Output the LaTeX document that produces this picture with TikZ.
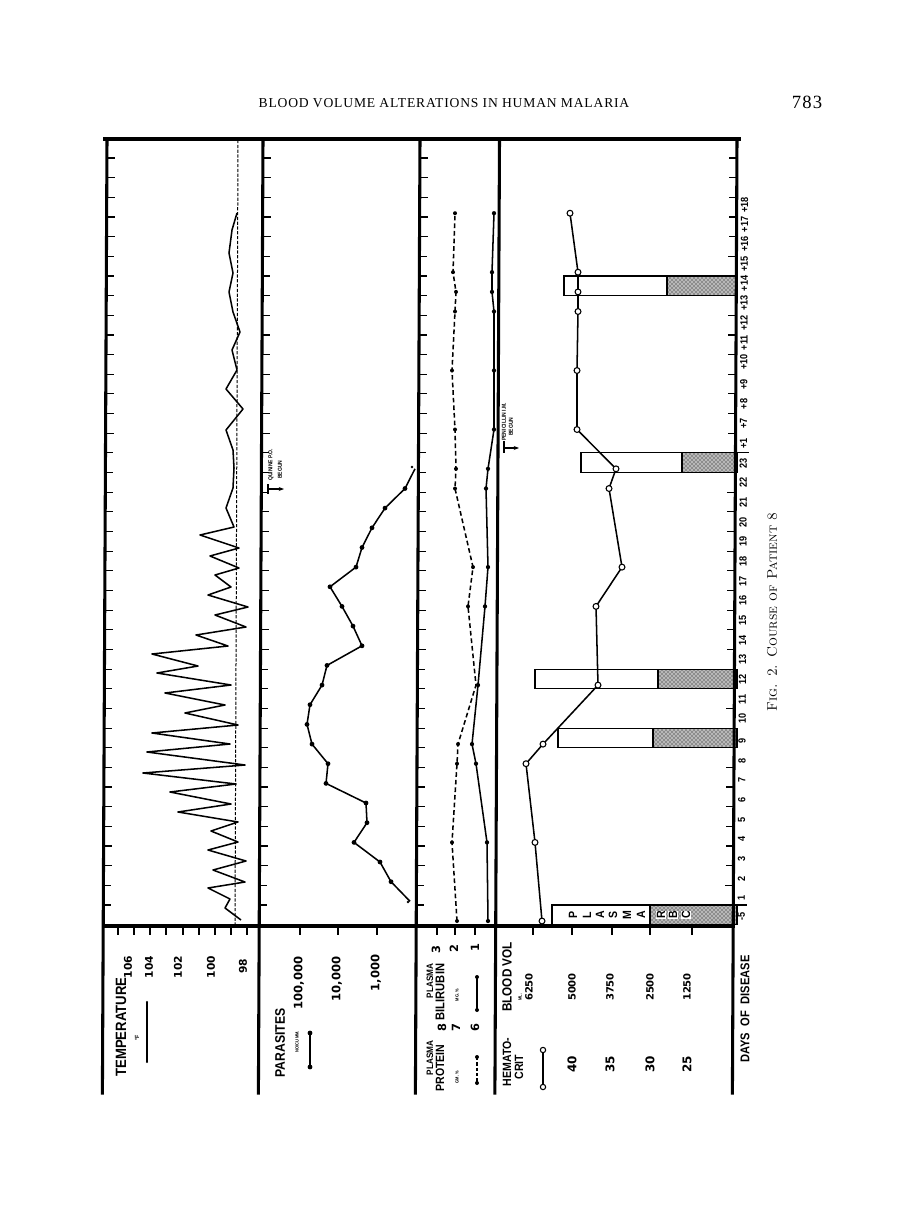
\documentclass[tikz,border=0pt]{standalone}
\usepackage{fontspec}
\newfontfamily\labf[FakeStretch=0.88]{Liberation Sans}
\newfontfamily\numf{DejaVu Sans}
\newfontfamily\hdrf[LetterSpace=6]{Liberation Serif}
\usetikzlibrary{patterns,arrows.meta}
\newcommand\fsz[1]{\fontsize{#1}{#1}\selectfont}
\begin{document}
\begin{tikzpicture}[x=0.75pt,y=-0.75pt,
  frm/.style={line width=2.3pt,line cap=rect},
  tk/.style={line width=0.9pt},
  dat/.style={line width=1.15pt,line join=round},
  barln/.style={line width=0.9pt},
  rbc/.style={fill=black!28,postaction={pattern=crosshatch dots}},
  lbl/.style={rotate=90,inner sep=0pt},
  wd/.style={lbl,font=\labf\bfseries\fsz{#1}},
  nm/.style={lbl,font=\numf\bfseries\fsz{#1}},
  odot/.style={fill=white,line width=0.8pt}]
\useasboundingbox (0,0) rectangle (907,1228);
\fill[white] (0,0) rectangle (907,1228);

% ---------- page header ----------
\node[font=\hdrf\fsz{10.2}] (title) at (444,103) {BLOOD VOLUME ALTERATIONS IN HUMAN MALARIA};
\node[font=\hdrf\fsz{14}] (page) at (807,102) {783};

% ---------- plasma / RBC bars ----------
\foreach \lft/\mid/\p in {552/650/0,558/653/9,535/658/12,581/682/23,564/667/32}{
  \pgfmathsetmacro\ya{924.7-19.66*\p}
  \pgfmathsetmacro\yb{\ya-19.66}
  \draw[barln,fill=white] (\lft,\yb) rectangle (\mid,\ya);
  \draw[barln,rbc] (\mid,\yb) rectangle (737,\ya);
}
\foreach \x/\c [count=\i] in {573/P,587/L,600/A,613/S,627/M,641/A}{
  \node[wd=9] (bp\i) at (\x,915) {\c};
}
\foreach \x/\c [count=\i] in {661/R,673/B,686/C}{
  \node[wd=9,fill=white,inner sep=0.4pt] (br\i) at (\x,915) {\c};
}

% ---------- temperature ----------
\draw[line width=0.75pt,dash pattern=on 2.4pt off 1.2pt] (238,140) -- (235,925);
\draw[dat] plot coordinates {(241,920) (225,908) (230,899) (208,888) (245,882) (213,870) (246,861) (208,850) (238,842) (211,831) (238,822) (178,812) (231,804) (170,792) (236,784) (143,773) (245,765) (147,752) (230,744) (152,733) (238,725) (185,713) (225,705) (165,693) (231,685) (157,673) (198,666) (152,654) (228,646) (196,635) (246,627) (215,615) (248,607) (208,595) (231,587) (215,575) (239,568) (210,556) (239,548) (200,535) (234,527) (226,508) (233,488) (234,468) (233,450) (226,430) (243,409) (226,389) (237,370) (232,350) (240,332) (233,312) (229,292) (233,273) (229,253) (232,230) (237,213)};

% ---------- parasites ----------
\draw[dat] plot coordinates {(410,901.3) (391,881.7) (380,862.0) (354,842.4) (367,822.7) (366,803.0) (326,783.4) (328,763.7) (312,744.1) (307,724.4) (310,704.7) (322,685.1) (327,665.4) (362,645.8) (353,626.1) (342,606.4) (330,586.8) (356,567.1) (362,547.5) (372,527.8) (385,508.1) (405,488.5) (415,468.8)};
\foreach \x/\y in {391/881.7,380/862.0,354/842.4,367/822.7,366/803.0,326/783.4,328/763.7,312/744.1,307/724.4,310/704.7,322/685.1,327/665.4,362/645.8,353/626.1,342/606.4,330/586.8,356/567.1,362/547.5,372/527.8,385/508.1,405/488.5}
  \fill (\x,\y) circle (1.8pt);
\fill (408,902) circle (1pt);
\fill (412,467) circle (1pt);

% quinine annotation
\node[wd=4.3,anchor=west] (qa) at (271,481) {QUININE P.O.};
\node[wd=4.3,anchor=west] (qb) at (280,479) {BEGUN};
\coordinate (qs) at (268,489);
\coordinate (qe) at (284,489);
\draw[line width=0.8pt] (268,484) -- (268,494);
\draw[line width=0.8pt,-{Stealth[length=4pt,width=3pt]}] (qs) -- (qe);

% ---------- plasma protein (dashed) ----------
\draw[dat,dash pattern=on 3.5pt off 2.2pt] plot coordinates {(457,921) (452,842.4) (457,763.7) (458,744.1) (476,685.1) (468,606.4) (473,567.1) (455,488.5) (456,468.8) (455,429.5) (452,370.5) (455,311.5) (456,291.9) (453,272.2) (455,213.2)};
\foreach \x/\y in {457/921,452/842.4,457/763.7,458/744.1,468/606.4,473/567.1,455/488.5,456/468.8,455/429.5,452/370.5,455/311.5,456/291.9,453/272.2,455/213.2}
  \fill (\x,\y) circle (1.5pt);

% ---------- bilirubin (solid) ----------
\draw[dat] plot coordinates {(488,921) (487,842.4) (476,763.7) (472,744.1) (478,685.1) (485,606.4) (488,567.1) (486,488.5) (488,468.8) (494,429.5) (494,370.5) (494,311.5) (492,291.9) (492,272.2) (494,213.2)};
\foreach \x/\y in {488/921,487/842.4,476/763.7,472/744.1,478/685.1,485/606.4,488/567.1,486/488.5,488/468.8,494/429.5,494/370.5,494/311.5,492/291.9,492/272.2,494/213.2}
  \fill (\x,\y) circle (1.6pt);

% penicillin annotation
\node[wd=4.3,anchor=west] (pa) at (504,441) {PENICILLIN I.M.};
\node[wd=4.3,anchor=west] (pb) at (511,436) {BEGUN};
\coordinate (ps) at (504,448);
\coordinate (pe) at (519,448);
\draw[line width=0.8pt] (504,441) -- (504,453);
\draw[line width=0.8pt,-{Stealth[length=4pt,width=3pt]}] (ps) -- (pe);

% ---------- hematocrit ----------
\draw[dat] plot coordinates {(542,921) (535,842.4) (526,763.7) (543,744.1) (598,685.1) (596,606.4) (622,567.1) (609,488.5) (616,468.8) (577,429.5) (577,370.5) (578,311.5) (578,291.9) (578,272.2) (570,213.2)};
\foreach \x/\y in {542/921,535/842.4,526/763.7,543/744.1,598/685.1,596/606.4,622/567.1,609/488.5,616/468.8,577/429.5,577/370.5,578/311.5,578/291.9,578/272.2,570/213.2}
  \draw[odot] (\x,\y) circle (2.2pt);

% ---------- frame ----------
\draw[frm] (105,139) -- (739,139);
\draw[frm] (107,139) -- (102.4,1093);
\draw[frm] (263,139) -- (258.4,1093);
\draw[frm] (420,139) -- (415.4,1093);
\draw[frm] (499.5,139) -- (494.9,1093);
\draw[frm] (737,139) -- (732.4,1093);
\draw[frm] (103.2,926) -- (733.2,926);

% day ticks
\foreach \p in {1,...,39}{
  \pgfmathsetmacro\ty{924.7-19.66*\p}
  \pgfmathsetmacro\dx{0.0048*(\ty-138)}
  \draw[tk] ({107-\dx},\ty) -- ++(8,0);
  \draw[tk] ({263-\dx},\ty) -- ++(8,0);
  \draw[tk] ({420-\dx},\ty) -- ++(8,0);
  \draw[tk] ({737-\dx},\ty) -- ++(-8,0);
}
\foreach \p in {1,24}{
  \pgfmathsetmacro\ty{924.7-19.66*\p}
  \pgfmathsetmacro\dx{0.0048*(\ty-138)}
  \draw[tk] ({737-\dx},\ty) -- ++(14,0);
}
% value ticks below the chart
\foreach \x in {118,134,150,166,183,199,215,231,247,300,338,377,437,455,475,533,572,612,650,692}
  \draw[tk] (\x,926) -- ++(0,9);

% day labels
\foreach \p/\t in {0/-5,1/1,2/2,3/3,4/4,5/5,6/6,7/7,8/8,9/9,10/10,11/11,12/12,13/13,14/14,15/15,16/16,17/17,18/18,19/19,20/20,21/21,22/22,23/23,24/+1,25/+7,26/+8,27/+9,28/+10,29/+11,30/+12,31/+13,32/+14,33/+15,34/+16,35/+17,36/+18}{
  \pgfmathsetmacro\ty{924.7-19.66*\p-4}
  \pgfmathsetmacro\dx{0.0048*(\ty-138)}
  \node[wd=7.8,anchor=west] (d\p) at ({745-\dx},\ty) {\t};
}

% ---------- scale labels ----------
\node[wd=11.2] (ltemp) at (121,1027) {TEMPERATURE};
\node[nm=8] (l106) at (128,967) {106};
\node[nm=8] (l104) at (149,967) {104};
\node[nm=8] (l102) at (178,967) {102};
\node[nm=8] (l100) at (211,967) {100};
\node[nm=8] (l98) at (243,966) {98};
\node[wd=4.5] (ldeg) at (137,1038) {°F};
\coordinate (tl1) at (147,1002);
\coordinate (tl2) at (147,1062);
\draw[line width=0.9pt] (tl1) -- (tl2);
\fill (tl1) circle (0.9pt) (tl2) circle (0.9pt);

\node[wd=10.4] (lpar) at (280,1043) {PARASITES};
\node[wd=3.4] (lnocu) at (297,1042) {NO/CU MM.};
\coordinate (pl1) at (310,1033);
\coordinate (pl2) at (310,1067);
\draw[line width=0.9pt] (pl1) -- (pl2);
\fill (pl1) circle (1.8pt) (pl2) circle (1.8pt);
\node[nm=8.7] (l1e5) at (299,983) {100,000};
\node[nm=8.7] (l1e4) at (337,979) {10,000};
\node[nm=8.7] (l1e3) at (376,973) {1,000};

\node[wd=7] (lpla) at (430,1058) {PLASMA};
\node[wd=9] (lprot) at (440,1068) {PROTEIN};
\node[wd=7] (lplb) at (430,981) {PLASMA};
\node[wd=9.5] (lbili) at (440,992) {BILIRUBIN};
\node[nm=8.5] (b3) at (436,950) {3};
\node[nm=8.5] (b2) at (454,949) {2};
\node[nm=8.5] (b1) at (475,948) {1};
\node[nm=8.5] (p8) at (442,1028) {8};
\node[nm=8.5] (p7) at (456,1028) {7};
\node[nm=8.5] (p6) at (475,1028) {6};
\node[wd=3.4] (lmg) at (457,995) {MG. \%};
\node[wd=3.4] (lgm) at (457,1077) {GM. \%};
\coordinate (bl1) at (477,977);
\coordinate (bl2) at (477,1010);
\draw[line width=0.9pt] (bl1) -- (bl2);
\fill (bl1) circle (1.5pt) (bl2) circle (1.5pt);
\coordinate (ql1) at (477,1057);
\coordinate (ql2) at (477,1083);
\draw[line width=0.9pt,dash pattern=on 2.5pt off 1.5pt] (ql1) -- (ql2);
\fill (ql1) circle (1.5pt) (ql2) circle (1.5pt);

\node[wd=9] (lhema) at (507,1062) {HEMATO-};
\node[wd=9] (lcrit) at (519,1067) {CRIT};
\coordinate (hl1) at (543,1050);
\coordinate (hl2) at (543,1087);
\draw[line width=0.9pt] (hl1) -- (hl2);
\draw[odot] (hl1) circle (2pt) (hl2) circle (2pt);
\node[wd=10] (lbv) at (507,977) {BLOOD VOL};
\node[wd=3.4] (lml) at (520,997) {ML.};
\node[nm=7.5] (v6250) at (529,987) {6250};
\node[nm=7.5] (v5000) at (572,987) {5000};
\node[nm=7.5] (v3750) at (610,987) {3750};
\node[nm=7.5] (v2500) at (650,987) {2500};
\node[nm=7.5] (v1250) at (687,987) {1250};
\node[nm=9] (h40) at (572,1064) {40};
\node[nm=9] (h35) at (610,1064) {35};
\node[nm=9] (h30) at (650,1064) {30};
\node[nm=9] (h25) at (687,1064) {25};

\node[wd=9.5] (ldays) at (745,1009) {DAYS\hspace{0.5em}OF\hspace{0.5em}DISEASE};

% ---------- caption ----------
\node[rotate=90,inner sep=0pt,font=\fsz{10.5}] (cap) at (772,612) {\textsc{Fig. 2. Course of Patient 8}};
\end{tikzpicture}
\end{document}
